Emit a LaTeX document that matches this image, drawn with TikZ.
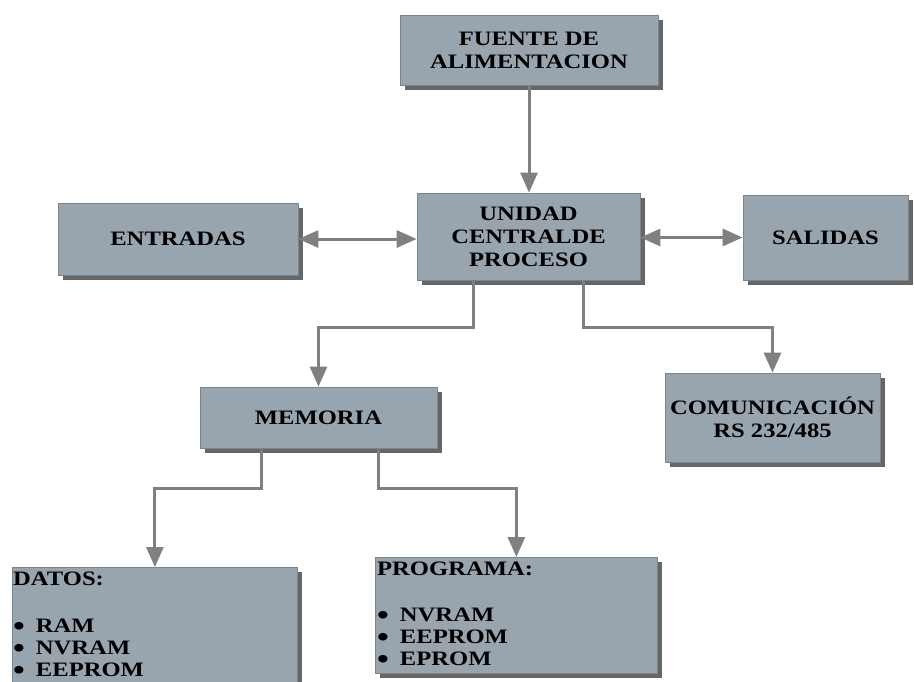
\documentclass[tikz,border=0pt]{standalone}
\usepackage{fontspec}
\setmainfont{Liberation Serif}[FakeStretch=1.2]
\usetikzlibrary{arrows.meta,shadows,calc}
\definecolor{boxfill}{HTML}{98A4AE}
\definecolor{boxline}{HTML}{7A858D}
\definecolor{arrowc}{HTML}{808080}
\newcommand{\blt}{\smash{\raisebox{-2.5pt}{\fontsize{28}{22}\selectfont •}}\hspace{11pt}}
\begin{document}
\begin{tikzpicture}[x=1pt,y=-1pt,
  box/.style={draw=boxline, fill=boxfill, line width=0.8pt, inner sep=0pt, align=center,
    font=\bfseries\fontsize{20.5}{23}\selectfont,
    drop shadow={shadow xshift=5pt, shadow yshift=-5pt, fill=black!75, opacity=0.8}},
  listtext/.style={inner sep=0pt, align=left, anchor=north west, font=\bfseries\fontsize{20.5}{22}\selectfont},
  conn/.style={draw=arrowc, line width=3pt, -{Triangle[length=20pt,width=17pt]}},
  dconn/.style={draw=arrowc, line width=3pt, {Triangle[length=20pt,width=17pt]}-{Triangle[length=20pt,width=17pt]}}]
\useasboundingbox (0,0) rectangle (914,681);
\clip (0,0) rectangle (914,681);

\node[box, minimum width=258pt, minimum height=70pt] (fuente) at (529,50) {FUENTE DE\\ALIMENTACION};
\node[box, minimum width=223pt, minimum height=87pt] (cpu) at (528.5,236.5) {UNIDAD\\CENTRALDE\\PROCESO};
\node[box, minimum width=240pt, minimum height=72pt] (ent) at (178,239) {ENTRADAS};
\node[box, minimum width=165pt, minimum height=85pt] (sal) at (825.5,237.5) {SALIDAS};
\node[box, minimum width=237pt, minimum height=61pt] (mem) at (318.5,417.5) {MEMORIA};
\node[box, minimum width=215pt, minimum height=89pt] (com) at (772.5,417.5) {COMUNICACIÓN\\RS 232/485};
\node[box, minimum width=285pt, minimum height=140pt, anchor=north west] (datos) at (12,567) {};
\node[box, minimum width=282pt, minimum height=116pt, anchor=north west] (prog) at (375,557) {};

\node[listtext] (datostxt) at (13,572) {DATOS:\\[25pt]\blt RAM\\\blt NVRAM\\\blt EEPROM};
\node[listtext] (progtxt) at (377,562) {PROGRAMA:\\[24pt]\blt NVRAM\\\blt EEPROM\\\blt EPROM};

\draw[conn] (fuente.south) -- (fuente.south |- cpu.north);
\draw[dconn] (ent.east) -- (ent.east -| cpu.west);
\draw[dconn] (cpu.east |- sal.west) -- (sal.west);
\draw[conn] ($(cpu.south)+(-55.5,0)$) -- ++(0,47) -| (mem.north);
\draw[conn] ($(cpu.south)+(54.5,0)$) -- ++(0,47) -| (com.north);
\draw[conn] ($(mem.south)+(-57.5,0)$) -- ++(0,40) -| (datos.north);
\draw[conn] ($(mem.south)+(59.5,0)$) -- ++(0,40) -| (prog.north);
\end{tikzpicture}
\end{document}
